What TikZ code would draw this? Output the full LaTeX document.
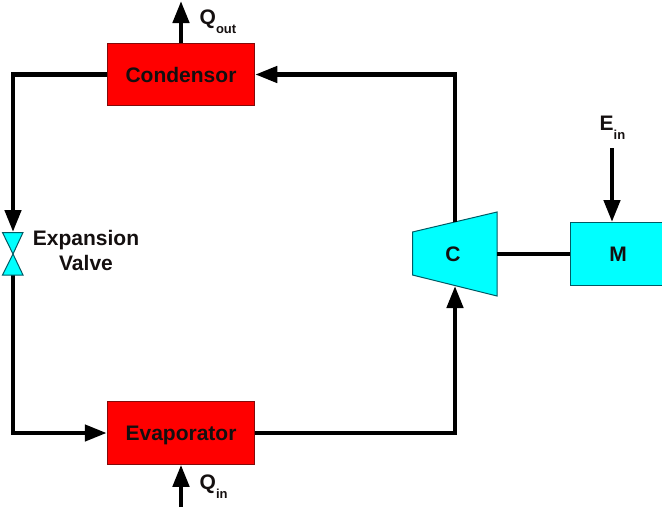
\documentclass[tikz,border=0pt]{standalone}
\usepackage{fontspec}
\setmainfont{Liberation Sans}
\usetikzlibrary{arrows.meta}
\definecolor{pcyan}{RGB}{0,255,255}
\definecolor{pred}{RGB}{255,0,0}
\definecolor{redline}{RGB}{130,10,10}
\definecolor{cyanline}{RGB}{0,90,100}
\definecolor{ink}{RGB}{20,15,15}
\newcommand{\subtxt}[2]{{\fontsize{21}{22}\selectfont #1}\raisebox{-9pt}{\fontsize{13}{14}\selectfont #2}}
\tikzset{
  x=1pt,y=-1pt,
  flow/.style={line width=4.5pt,draw=black,line join=miter},
  flowtip/.style={flow,-{Triangle[length=22pt,width=16pt,inset=0pt]}},
  redbox/.style={draw=redline,line width=1pt,fill=pred,minimum width=147.5pt,minimum height=62.5pt,inner sep=0pt,
    font=\fontsize{21}{22}\selectfont\bfseries,text=ink,text height=15pt,text depth=0pt},
  cyanpart/.style={draw=cyanline,line width=1pt,fill=pcyan},
  cyanbox/.style={cyanpart,minimum width=96pt,minimum height=63pt,inner sep=0pt},
  lab/.style={font=\fontsize{21}{22}\selectfont\bfseries,inner sep=0pt,text=ink},
}
\begin{document}
\begin{tikzpicture}
\useasboundingbox (0,0) rectangle (662,509);
\clip (0,0) rectangle (662,509);
% junctions and free ends
\coordinate (tl) at (13,74.5);
\coordinate (tr) at (455,74.5);
\coordinate (bl) at (13,433);
\coordinate (br) at (455,433);
\coordinate (vt) at (13,232);
\coordinate (vb) at (13,275);
\coordinate (vm) at (13,254);
\coordinate (cout) at (455,222);
\coordinate (cin) at (455,286);
\coordinate (cshaft) at (497,254);
\coordinate (qo) at (181,1);
\coordinate (qi) at (181,507);
\coordinate (ei) at (612,148);
% parts
\node[redbox] (cond) at (181,74.5) {Condensor};
\node[redbox] (evap) at (181,433) {Evaporator};
\node[cyanbox,font=\fontsize{21}{22}\selectfont\bfseries,text=ink] (mot) at (618,254) {M};
\draw[cyanpart,line join=miter] (412.5,232) -- (497,212) -- (497,296) -- (412.5,275) -- cycle;
\node[lab] (comp) at (453,254.5) {C};
% connectors
\draw[flowtip] (cout) -- (tr) -- (cond.east);
\draw[flowtip] (cond.west) -- (tl) -- (vt);
\draw[flowtip] (vb) -- (bl) -- (evap.west);
\draw[flowtip] (evap.east) -- (br) -- (cin);
\draw[flow] (cshaft) -- (mot.west);
\draw[flowtip] (cond.north -| qo) -- (qo);
\draw[flowtip] (qi) -- (evap.south -| qi);
\draw[flowtip] (ei) -- (mot.north -| ei);
% valve
\draw[cyanpart] (2.5,232.5) -- (23,232.5) -- (vm) -- cycle;
\draw[cyanpart] (2.5,275) -- (23,275) -- (vm) -- cycle;
% labels
\node[lab,align=center,font=\fontsize{21}{25}\selectfont\bfseries] (vlab) at (86,250) {Expansion\\Valve};
\node[lab,anchor=base west] (qol) at (199.5,24) {\subtxt{Q}{out}};
\node[lab,anchor=base west] (qil) at (199.5,489) {\subtxt{Q}{in}};
\node[lab,anchor=base west] (eil) at (599.5,130) {\subtxt{E}{in}};
\end{tikzpicture}
\end{document}
